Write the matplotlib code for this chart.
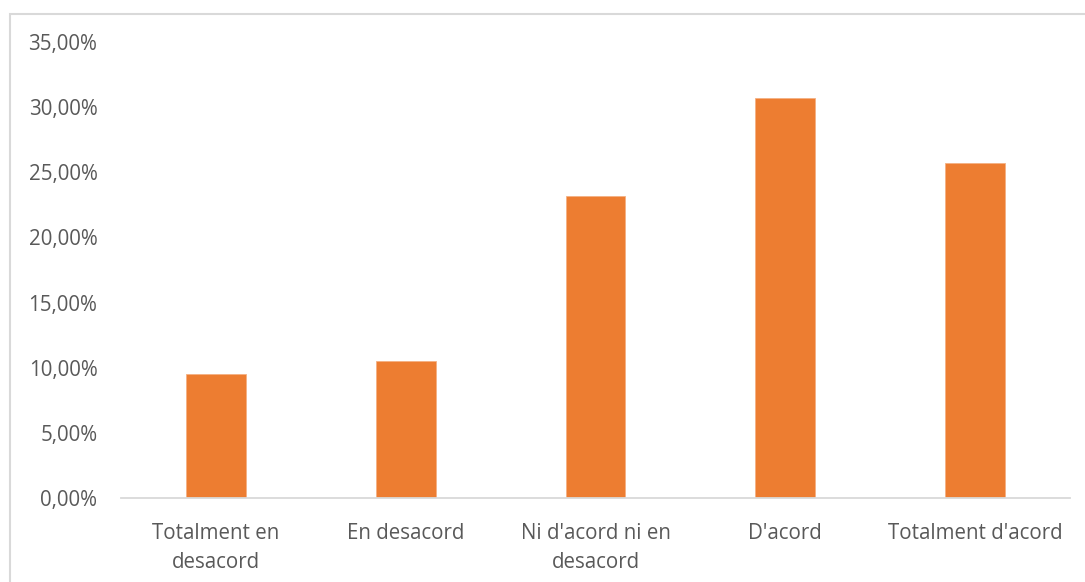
from matplotlib import pyplot as plt
from matplotlib.patches import Rectangle
from matplotlib.ticker import FuncFormatter
import numpy as np

# Response categories and share of answers.
categories = ["Totalment en\ndesacord", "En desacord", "Ni d'acord ni en\ndesacord",
              "D'acord", "Totalment d'acord"]
shares = [0.0955, 0.1052, 0.2318, 0.3074, 0.2571]
yticks = [0.0, 0.05, 0.10, 0.15, 0.20, 0.25, 0.30, 0.35]

W, H = 1085, 582
plt.rcParams['font.family'] = ['Open Sans', 'DejaVu Sans']
fig = plt.figure(figsize=(W / 100, H / 100), dpi=100)

# Light grey chart frame, running off the right and bottom edges like the source.
fig.patches.append(Rectangle((10 / W, -0.1), 1.2, 1 - 14 / H + 0.1, transform=fig.transFigure,
                             fill=False, edgecolor="#d9d9d9", linewidth=1.5))

ax = fig.add_axes([121 / W, 1 - 498 / H, (1070 - 121) / W, (498 - 42) / H])
x = np.arange(len(categories))
ax.bar(x, shares, width=0.316, color="#ed7d31", edgecolor="#f4b183", linewidth=0.6)

ax.set_xlim(-0.5, len(categories) - 0.5)
ax.set_ylim(0, 0.35)
ax.set_yticks(yticks)
ax.yaxis.set_major_formatter(FuncFormatter(lambda v, p: ("%.2f%%" % (v * 100)).replace(".", ",")))
ax.set_xticks(x)
ax.set_xticklabels(categories, linespacing=1.48)

for side in ["top", "right", "left"]:
    ax.spines[side].set_visible(False)
ax.spines["bottom"].set_color("#d9d9d9")
ax.spines["bottom"].set_linewidth(1.3)
ax.tick_params(axis="both", length=0, labelsize=14.8, labelcolor="#595959")
ax.tick_params(axis="y", pad=17)
ax.tick_params(axis="x", pad=18)

plt.savefig("out.png", dpi=100)
